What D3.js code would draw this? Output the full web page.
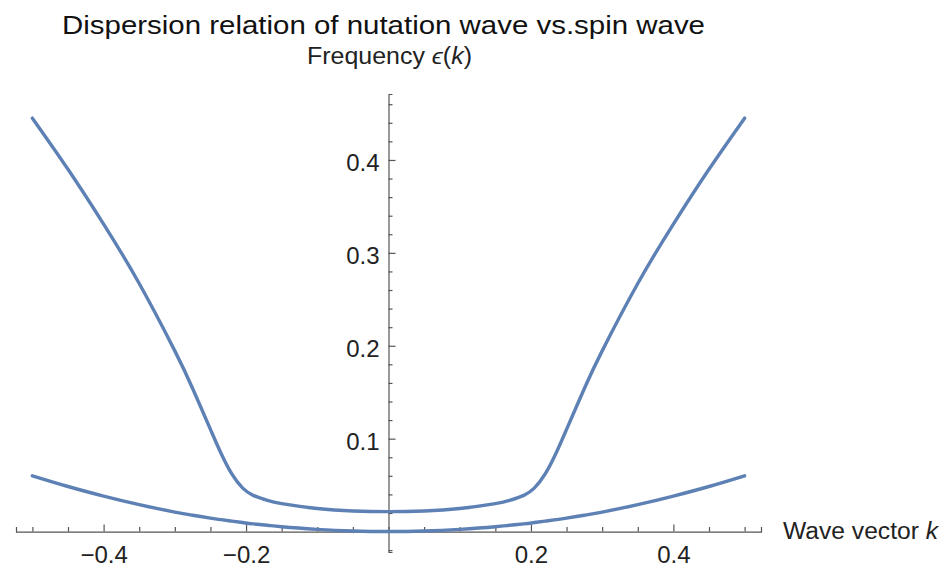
<!DOCTYPE html>
<html>
<head>
<meta charset="utf-8">
<script src="https://cdn.jsdelivr.net/npm/d3@7"></script>
<style>
  body { margin: 0; background: #fff; }
  svg { font-family: "Liberation Sans", Arial, sans-serif; }
</style>
</head>
<body>
<svg width="945" height="567"></svg>
<script>
// wave vector k sample points
const kValues = [-0.5, -0.45, -0.4, -0.35, -0.3, -0.275, -0.25, -0.235, -0.22, -0.205, -0.19, -0.17, -0.15, -0.1, -0.05,
  0, 0.05, 0.1, 0.15, 0.17, 0.19, 0.205, 0.22, 0.235, 0.25, 0.275, 0.3, 0.35, 0.4, 0.45, 0.5];

// upper curve (nutation wave)
const nutation = [0.445, 0.390, 0.331, 0.267, 0.1945, 0.154, 0.110, 0.084, 0.062, 0.047, 0.039, 0.0335, 0.030, 0.0248, 0.0222,
  0.0215, 0.0222, 0.0248, 0.030, 0.0335, 0.039, 0.047, 0.062, 0.084, 0.110, 0.154, 0.1945, 0.267, 0.331, 0.390, 0.445];

// lower curve (spin wave)
const spin = [0.060, 0.0485, 0.0382, 0.0290, 0.0210, 0.0176, 0.0145, 0.0128, 0.0112, 0.0097, 0.0083, 0.0068, 0.0052, 0.0024, 0.0006,
  0, 0.0006, 0.0024, 0.0052, 0.0068, 0.0083, 0.0097, 0.0112, 0.0128, 0.0145, 0.0176, 0.0210, 0.0290, 0.0382, 0.0485, 0.060];

const xMinor = d3.range(-10, 11).map((i) => i * 0.05);
const xLabels = [-0.4, -0.2, 0.2, 0.4];
const yMinor = d3.range(-1, 24).map((i) => i * 0.02);
const yLabels = [0.1, 0.2, 0.3, 0.4];

const svg = d3.select("svg");
const lineColor = "#5e81b5";
const axisColor = "#555";

const x = d3.scaleLinear().domain([-0.523, 0.523]).range([16, 761]);
const y = d3.scaleLinear().domain([-0.022, 0.471]).range([552, 94]);

const fmt = (d) => d3.format(".1f")(d).replace("-", "\u2212");

// x axis: ticks point up, labels below
const xTicks = svg.append("g")
  .attr("transform", `translate(0,${y(0)})`)
  .call(d3.axisTop(x).tickValues(xMinor).tickFormat("").tickSizeOuter(0)
    .tickSize(4.5));
xTicks.selectAll(".tick line")
  .attr("y2", (d) => (Math.abs(Math.abs(d) - 0.2) < 1e-6 || Math.abs(Math.abs(d) - 0.4) < 1e-6 ? -7 : -4.5));

const xLab = svg.append("g")
  .attr("transform", `translate(0,${y(0)})`)
  .call(d3.axisBottom(x).tickValues(xLabels).tickFormat(fmt).tickSize(0).tickPadding(14));
xLab.select(".domain").remove();
xLab.selectAll("text").attr("font-size", 24).attr("fill", "#222");

// y axis: ticks point right, labels left
const yTicks = svg.append("g")
  .attr("transform", `translate(${x(0)},0)`)
  .call(d3.axisRight(y).tickValues(yMinor).tickFormat("").tickSizeOuter(0).tickSize(4));
yTicks.selectAll(".tick line")
  .attr("x2", (d) => (yLabels.some((v) => Math.abs(v - d) < 1e-6) ? 7 : 4));

const yLab = svg.append("g")
  .attr("transform", `translate(${x(0)},0)`)
  .call(d3.axisLeft(y).tickValues(yLabels).tickFormat(fmt).tickSize(0).tickPadding(9));
yLab.select(".domain").remove();
yLab.selectAll("text").attr("font-size", 24).attr("fill", "#222").attr("dy", "0.45em");

svg.selectAll(".domain, .tick line").attr("stroke", axisColor).attr("stroke-width", 1.2);

// curves
const line = d3.line()
  .x((d) => x(d[0]))
  .y((d) => y(d[1]))
  .curve(d3.curveNatural);

[spin, nutation].forEach((vals) => {
  svg.append("path")
    .datum(kValues.map((k, i) => [k, vals[i]]))
    .attr("d", line)
    .attr("fill", "none")
    .attr("stroke", lineColor)
    .attr("stroke-width", 3.4)
    .attr("stroke-linejoin", "round")
    .attr("stroke-linecap", "round");
});

// titles
svg.append("text")
  .attr("x", 62).attr("y", 34)
  .attr("font-size", 25.5).attr("fill", "#111")
  .attr("textLength", 643).attr("lengthAdjust", "spacingAndGlyphs")
  .text("Dispersion relation of nutation wave vs.spin wave");

const ylab = svg.append("text")
  .attr("x", 307).attr("y", 64)
  .attr("font-size", 23).attr("fill", "#222")
  .attr("textLength", 165).attr("lengthAdjust", "spacingAndGlyphs");
ylab.append("tspan").text("Frequency ");
ylab.append("tspan").attr("font-style", "italic").text("\u03f5");
ylab.append("tspan").text("(");
ylab.append("tspan").attr("font-style", "italic").text("k");
ylab.append("tspan").text(")");

const xlab = svg.append("text")
  .attr("x", 783).attr("y", 539)
  .attr("font-size", 23).attr("fill", "#222")
  .attr("textLength", 155).attr("lengthAdjust", "spacingAndGlyphs");
xlab.append("tspan").text("Wave vector ");
xlab.append("tspan").attr("font-style", "italic").text("k");
</script>
</body>
</html>
